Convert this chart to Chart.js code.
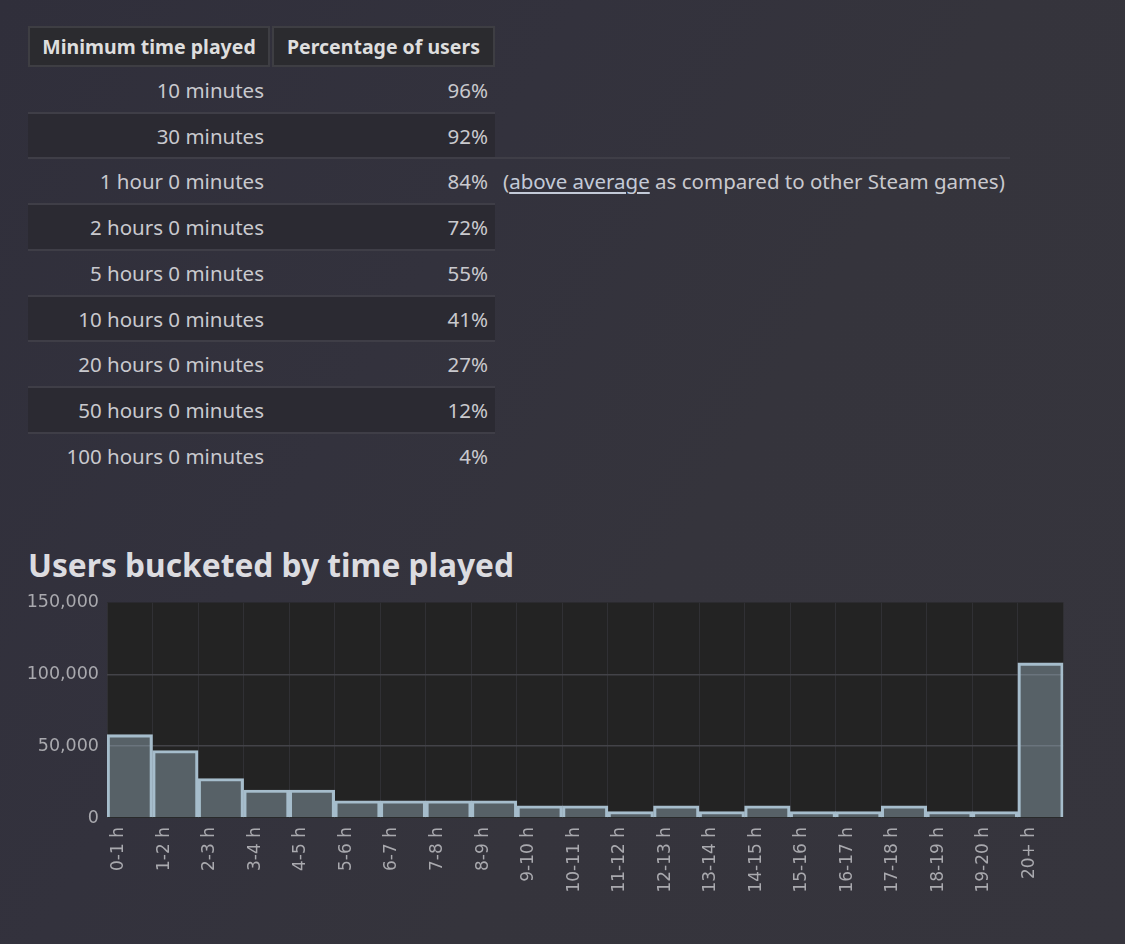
<!DOCTYPE html>
<html>
<head>
<meta charset="utf-8">
<script src="https://cdn.jsdelivr.net/npm/chart.js@4"></script>
<style>
    html, body {
        margin: 0;
        padding: 0;
    }
    body {
        width: 1125px;
        height: 944px;
        position: relative;
        overflow: hidden;
        font-family: "Noto Sans", sans-serif;
        background: linear-gradient(120deg, #302f3b 0%, #33323d 35%, #35343c 60%, #36353d 100%);
        color: #c9c9ce;
    }
    .cell {
        position: absolute;
        box-sizing: border-box;
        text-align: right;
        font-size: 20.5px;
        white-space: nowrap;
    }
    .head {
        background: #2b2b2f;
        border: 2px solid #3e3e43;
        color: #dedede;
        font-weight: bold;
        font-size: 19.5px;
        text-align: center;
        line-height: 37px;
    }
    .row-bg {
        position: absolute;
        left: 28px;
        width: 467px;
    }
    .sep {
        position: absolute;
        left: 28px;
        height: 2px;
        background: #3f3e47;
    }
    .note a {
        color: #c3cad8;
        text-decoration: underline;
        text-underline-offset: 3px;
    }
    h2 {
        position: absolute;
        left: 28px;
        top: 543px;
        margin: 0;
        font-size: 31.7px;
        font-weight: bold;
        color: #dcdce0;
    }
    #chartBox {
        position: absolute;
        left: 20px;
        top: 584px;
        width: 1050px;
        height: 312px;
    }
</style>
</head>
<body>
<div id="table"></div>
<h2>Users bucketed by time played</h2>
<div id="chartBox"><canvas id="bucketChart"></canvas></div>

<script>
// table data
const minTimes = ['10 minutes', '30 minutes', '1 hour 0 minutes', '2 hours 0 minutes', '5 hours 0 minutes',
    '10 hours 0 minutes', '20 hours 0 minutes', '50 hours 0 minutes', '100 hours 0 minutes'];
const userPercents = [96, 92, 84, 72, 55, 41, 27, 12, 4];

// histogram data
const buckets = ['0-1 h', '1-2 h', '2-3 h', '3-4 h', '4-5 h', '5-6 h', '6-7 h', '7-8 h', '8-9 h', '9-10 h',
    '10-11 h', '11-12 h', '12-13 h', '13-14 h', '14-15 h', '15-16 h', '16-17 h', '17-18 h', '18-19 h',
    '19-20 h', '20+ h'];
const userCounts = [58000, 47000, 27500, 19500, 19500, 12000, 12000, 12000, 12000, 8500,
    8500, 4500, 8500, 4500, 8500, 4500, 4500, 8500, 4500, 4500, 108000];
const yTicks = [0, 50000, 100000, 150000];

function buildTable() {
    const root = document.getElementById('table');
    const rowTop = 67, rowH = 45.7;
    let html = '';
    html += '<div class="cell head" style="left:28px;top:26px;width:242px;height:41px">Minimum time played</div>';
    html += '<div class="cell head" style="left:272px;top:26px;width:223px;height:41px">Percentage of users</div>';
    minTimes.forEach((label, i) => {
        const top = rowTop + i * rowH;
        if (i % 2 === 1) {
            html += `<div class="row-bg" style="top:${top}px;height:${rowH}px;background:#2b2a32"></div>`;
        }
        if (i > 0) {
            const w = i === 2 ? 982 : 467;
            html += `<div class="sep" style="top:${top - 1}px;width:${w}px"></div>`;
        }
        html += `<div class="cell" style="left:28px;top:${top + 1}px;width:236px;line-height:${rowH}px">${label}</div>`;
        html += `<div class="cell" style="left:272px;top:${top + 1}px;width:216px;line-height:${rowH}px">${userPercents[i]}%</div>`;
        if (i === 2) {
            html += `<div class="cell note" style="left:503px;top:${top + 1}px;text-align:left;line-height:${rowH}px">(<a>above average</a> as compared to other Steam games)</div>`;
        }
    });
    root.innerHTML = html;
}
buildTable();

// dark plot background
const plotBg = {
    id: 'plotBg',
    beforeDraw(chart) {
        const a = chart.chartArea;
        const ctx = chart.ctx;
        ctx.save();
        ctx.fillStyle = '#232323';
        ctx.fillRect(a.left, a.top, a.right - a.left, a.bottom - a.top);
        ctx.restore();
    }
};

const axisFont = 'DejaVu Sans';

const ctx = document.getElementById('bucketChart').getContext('2d');
new Chart(ctx, {
    type: 'bar',
    data: {
        labels: buckets,
        datasets: [{
            data: userCounts,
            backgroundColor: 'rgba(166, 190, 206, 0.4)',
            borderColor: '#a6bdcc',
            borderWidth: 2.5,
            barPercentage: 1,
            categoryPercentage: 1
        }]
    },
    options: {
        responsive: true,
        maintainAspectRatio: false,
        animation: false,
        layout: {
            padding: { top: 0, right: 0, left: 0, bottom: 0 }
        },
        plugins: {
            legend: { display: false },
            tooltip: { enabled: false }
        },
        scales: {
            x: {
                offset: true,
                border: { display: false },
                grid: {
                    offset: true,
                    drawTicks: false,
                    color: '#303034',
                    lineWidth: 1
                },
                ticks: {
                    color: '#a9a9ae',
                    font: { family: axisFont, size: 17 },
                    minRotation: 90,
                    maxRotation: 90,
                    padding: 9,
                    labelOffset: -11
                },
                afterFit(scale) {
                    scale.height = 78;
                }
            },
            y: {
                min: 0,
                max: 150000,
                afterBuildTicks(scale) {
                    scale.ticks = yTicks.map(v => ({ value: v }));
                },
                border: { display: false },
                grid: {
                    drawTicks: false,
                    color: ctx => (ctx.tick && (ctx.tick.value === 50000 || ctx.tick.value === 100000)) ? '#434348' : 'rgba(0,0,0,0)',
                    lineWidth: 1.5
                },
                ticks: {
                    color: '#a9a9ae',
                    font: { family: axisFont, size: 17.5 },
                    padding: 8,
                    callback: v => v.toLocaleString('en-US')
                },
                afterFit(scale) {
                    scale.width = 87;
                }
            }
        }
    },
    plugins: [plotBg]
});
</script>
</body>
</html>
